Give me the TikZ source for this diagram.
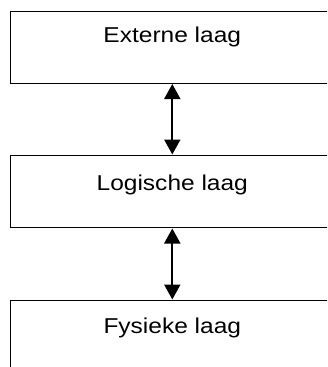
\documentclass[tikz,border=0pt]{standalone}
\usepackage{fontspec}
\setmainfont{Liberation Sans}[FakeStretch=1.14]
\usetikzlibrary{arrows.meta}
\begin{document}
\begin{tikzpicture}[x=1pt,y=-1pt,
  layer/.style={draw=black,line width=1pt,rectangle,minimum width=335pt,minimum height=72pt,inner sep=0pt},
  lbl/.style={anchor=base,inner sep=0pt,font=\fontsize{21.5}{24}\selectfont},
  biarrow/.style={line width=2pt,{Triangle[width=16pt,length=15pt]}-{Triangle[width=16pt,length=15pt]},shorten <=0.5pt,shorten >=0.5pt}]
\useasboundingbox (0,0) rectangle (327,367);
\clip (0,0) rectangle (327,367);
\node[layer] (ext) at (177.5,47) {};
\node[layer] (log) at (177.5,191.5) {};
\node[layer] (fys) at (177.5,336.5) {};
\node[lbl] (extT) at (172.3,42.3) {Externe laag};
\node[lbl] (logT) at (172.3,190) {Logische laag};
\node[lbl] (fysT) at (172.3,333.3) {Fysieke laag};
\draw[biarrow] (ext.south -| extT) -- (log.north -| extT);
\draw[biarrow] (log.south -| logT) -- (fys.north -| logT);
\end{tikzpicture}
\end{document}
